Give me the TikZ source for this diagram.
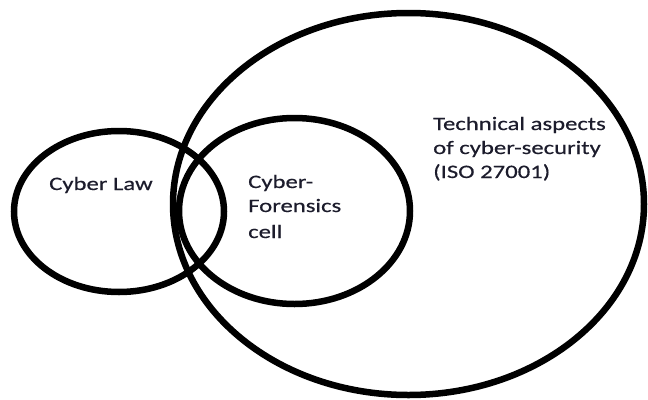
\documentclass[tikz,border=0pt]{standalone}
\usepackage{fontspec}
\usetikzlibrary{shapes.geometric}
% Calibri-width face, widened to suit the stretched set
\newfontfamily\labelfont[FakeStretch=1.3,FakeBold=0.4]{Carlito}
\definecolor{labelink}{RGB}{28,28,44}
\begin{document}
\begin{tikzpicture}[x=1pt,y=-1pt,
  ring/.style={draw=black, line width=6.5pt, ellipse, inner sep=0pt, outer sep=0pt},
  label/.style={anchor=base west, inner sep=0pt, align=left, text=labelink,
    font=\labelfont\fontsize{19}{24}\selectfont}]
  \useasboundingbox (0,0) rectangle (648,399);
  \fill[white] (0,0) rectangle (648,399);

  % the three overlapping areas
  \node[ring, minimum width=471pt, minimum height=382pt] (tech) at (408.5,204) {};
  \node[ring, minimum width=231pt, minimum height=186pt] (cell) at (294.5,211) {};
  \node[ring, minimum width=210pt, minimum height=161pt] (law) at (119,211.5) {};

  % their captions (base anchor sits on the last line)
  \node[label] (lawtext) at (49,190) {Cyber Law};
  \node[label] (celltext) at (248,238) {Cyber-\\Forensics\\[2pt]cell};
  \node[label] (techtext) at (433,178) {Technical aspects\\of cyber-security\\(ISO 27001)};
\end{tikzpicture}
\end{document}
